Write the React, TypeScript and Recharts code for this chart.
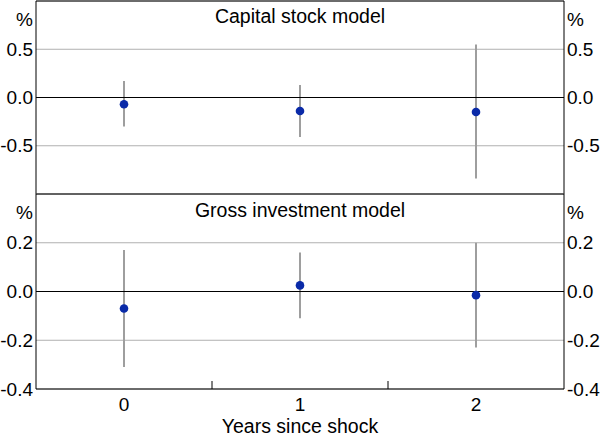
import React from 'react';
import { ComposedChart, Bar, Line, XAxis, YAxis, CartesianGrid, ReferenceLine } from 'recharts';

const years = ['0', '1', '2'];

// Capital stock model: point estimate and confidence band
const capitalEstimate = [-0.07, -0.14, -0.15];
const capitalLower = [-0.3, -0.41, -0.84];
const capitalUpper = [0.17, 0.13, 0.55];

// Gross investment model
const grossEstimate = [-0.07, 0.025, -0.015];
const grossLower = [-0.31, -0.11, -0.23];
const grossUpper = [0.17, 0.16, 0.2];

const capitalTicks = [-1, -0.5, 0, 0.5, 1];
const grossTicks = [-0.4, -0.2, 0, 0.2, 0.4];

const capitalData = years.map((year, i) => ({
    year,
    est: capitalEstimate[i],
    range: [capitalLower[i], capitalUpper[i]],
}));

const grossData = years.map((year, i) => ({
    year,
    est: grossEstimate[i],
    range: [grossLower[i], grossUpper[i]],
}));

const FONT = '"Liberation Sans", Arial, Helvetica, sans-serif';
const GRID = '#b0b0b0';
const BAND = '#9e9e9e';
const DOT = '#0a2aa8';
const X_TICK_MARGIN = 9;

function makeTick(ticks: number[], hideBottom: boolean) {
    const top = ticks[ticks.length - 1];
    const bottom = ticks[0];
    return (props: any) => {
        const { x, y, payload, textAnchor } = props;
        const v = payload.value;
        let label = v.toFixed(1);
        let shift = 0;
        if (v === top) {
            label = '%';
            shift = 10;
        } else if (v === bottom && hideBottom) {
            label = '';
        }
        return (
            <text x={x} y={y + shift} dy="0.355em" textAnchor={textAnchor} fontSize={19} fill="#000">
                {label}
            </text>
        );
    };
}

// category label plus a short inward tick on the boundary between bands
function YearTick(props: any) {
    const { x, y, payload, index } = props;
    const half = payload.offset || 0;
    const axisY = y - X_TICK_MARGIN;
    return (
        <g>
            <text x={x} y={y} dy="0.71em" textAnchor="middle" fontSize={19} fill="#000">
                {payload.value}
            </text>
            {index < years.length - 1 && (
                <line x1={x + half} x2={x + half} y1={axisY} y2={axisY - 8} stroke="#000" />
            )}
        </g>
    );
}

export default function App() {
    return (
        <div style={{ position: 'absolute', left: 0, top: 0, width: 600, height: 438, fontFamily: FONT, background: '#fff' }}>
            <div style={{ position: 'absolute', left: 0, top: 0 }}>
                <ComposedChart width={600} height={195} data={capitalData} margin={{ top: 1, right: 0, bottom: 1, left: 0 }}>
                    <CartesianGrid vertical={false} stroke={GRID} />
                    <XAxis dataKey="year" hide />
                    <YAxis
                        domain={[-1, 1]}
                        ticks={capitalTicks}
                        allowDataOverflow
                        width={36}
                        tickSize={0}
                        tickMargin={3}
                        tickLine={false}
                        axisLine={{ stroke: '#000' }}
                        tick={makeTick(capitalTicks, true)}
                    />
                    <YAxis
                        yAxisId="r"
                        orientation="right"
                        domain={[-1, 1]}
                        ticks={capitalTicks}
                        allowDataOverflow
                        width={36}
                        tickSize={0}
                        tickMargin={3}
                        tickLine={false}
                        axisLine={{ stroke: '#000' }}
                        tick={makeTick(capitalTicks, true)}
                    />
                    <ReferenceLine y={0} stroke="#000" />
                    <ReferenceLine
                        y={1}
                        stroke="#000"
                        label={{ value: 'Capital stock model', position: 'bottom', offset: 8, fontSize: 19.5, fill: '#000' }}
                    />
                    <Bar dataKey="range" barSize={2} fill={BAND} isAnimationActive={false} />
                    <Line
                        dataKey="est"
                        stroke="none"
                        dot={{ r: 4.3, fill: DOT, stroke: 'none' }}
                        activeDot={false}
                        isAnimationActive={false}
                    />
                </ComposedChart>
            </div>
            <div style={{ position: 'absolute', left: 0, top: 193 }}>
                <ComposedChart width={600} height={245} data={grossData} margin={{ top: 1, right: 0, bottom: 0, left: 0 }}>
                    <CartesianGrid vertical={false} stroke={GRID} />
                    <XAxis
                        dataKey="year"
                        height={49}
                        tickSize={0}
                        tickMargin={X_TICK_MARGIN}
                        tickLine={false}
                        axisLine={{ stroke: '#000' }}
                        tick={<YearTick />}
                        label={{ value: 'Years since shock', position: 'insideBottom', offset: 5, fontSize: 19.5, fill: '#000' }}
                    />
                    <YAxis
                        domain={[-0.4, 0.4]}
                        ticks={grossTicks}
                        allowDataOverflow
                        width={36}
                        tickSize={0}
                        tickMargin={3}
                        tickLine={false}
                        axisLine={{ stroke: '#000' }}
                        tick={makeTick(grossTicks, false)}
                    />
                    <YAxis
                        yAxisId="r"
                        orientation="right"
                        domain={[-0.4, 0.4]}
                        ticks={grossTicks}
                        allowDataOverflow
                        width={36}
                        tickSize={0}
                        tickMargin={3}
                        tickLine={false}
                        axisLine={{ stroke: '#000' }}
                        tick={makeTick(grossTicks, false)}
                    />
                    <ReferenceLine y={0} stroke="#000" />
                    <ReferenceLine
                        y={0.4}
                        stroke="#000"
                        label={{ value: 'Gross investment model', position: 'bottom', offset: 9, fontSize: 19.5, fill: '#000' }}
                    />
                    <Bar dataKey="range" barSize={2} fill={BAND} isAnimationActive={false} />
                    <Line
                        dataKey="est"
                        stroke="none"
                        dot={{ r: 4.3, fill: DOT, stroke: 'none' }}
                        activeDot={false}
                        isAnimationActive={false}
                    />
                </ComposedChart>
            </div>
        </div>
    );
}
